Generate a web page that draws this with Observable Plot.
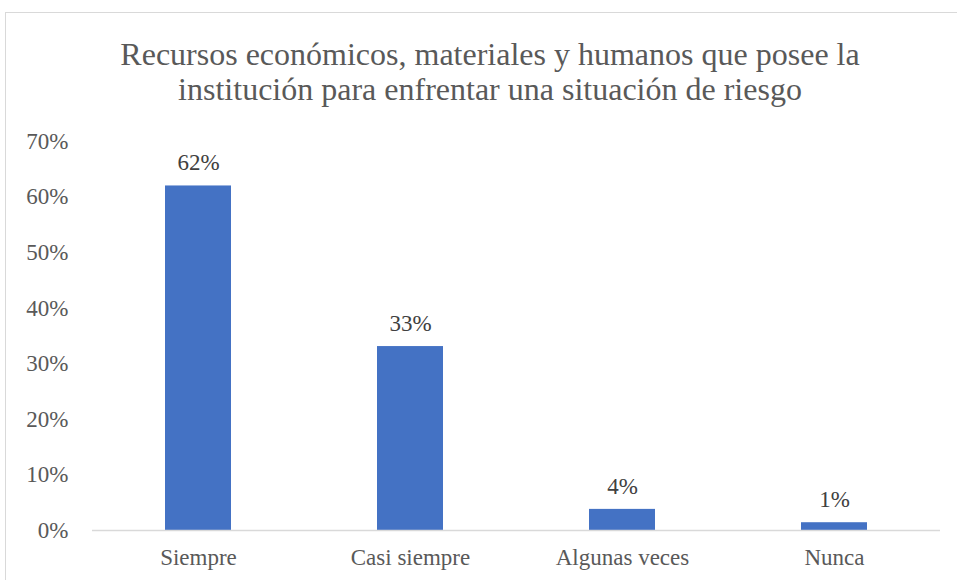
<!DOCTYPE html>
<html>
<head>
<meta charset="utf-8">
<script src="https://cdn.jsdelivr.net/npm/d3@7"></script>
<script src="https://cdn.jsdelivr.net/npm/@observablehq/plot@0.6"></script>
<style>
  html, body { margin: 0; padding: 0; background: #fff; }
  #wrap { position: relative; width: 957px; height: 580px; overflow: hidden; font-family: "Liberation Serif", "Times New Roman", serif; }
  #frame { position: absolute; left: 5px; top: 12px; width: 960px; height: 575px; border: 1px solid #d9d9d9; box-sizing: border-box; }
  #title { position: absolute; left: 0; top: 37px; width: 980px; text-align: center; font-size: 32px; line-height: 35px; color: #595959; }
  #chart { position: absolute; left: 0; top: 110px; }
</style>
</head>
<body>
<div id="wrap">
  <div id="frame"></div>
  <div id="title">Recursos económicos, materiales y humanos que posee la<br>institución para enfrentar una situación de riesgo</div>
  <div id="chart"></div>
</div>
<script>
const categories = ["Siempre", "Casi siempre", "Algunas veces", "Nunca"];
const values = [0.62, 0.331, 0.038, 0.014];
const yTicks = [0, 0.1, 0.2, 0.3, 0.4, 0.5, 0.6, 0.7];

const data = categories.map((c, i) => ({category: c, value: values[i]}));
const fmt = d3.format(".0%");
const FONT = '"Liberation Serif", "Times New Roman", serif';

const chart = Plot.plot({
  width: 957,
  height: 470,
  marginTop: 31,
  marginBottom: 50,
  marginLeft: 92,
  marginRight: 17,
  style: {fontFamily: FONT, fontSize: "23px", background: "transparent"},
  x: {domain: categories, paddingInner: 0.69, paddingOuter: 0.345, label: null},
  y: {domain: [0, 0.7], label: null},
  marks: [
    Plot.axisY({ticks: yTicks, tickFormat: fmt, tickSize: 0, tickPadding: 24, fill: "#595959", fontSize: 23}),
    Plot.axisX({tickSize: 0, tickPadding: 18, fill: "#595959", fontSize: 23}),
    Plot.barY(data, {x: "category", y: "value", fill: "#4472C4"}),
    Plot.ruleY([0], {stroke: "#d9d9d9", strokeWidth: 1.5}),
    Plot.text(data, {x: "category", y: "value", text: d => fmt(d.value), dy: -23, fill: "#404040", fontSize: 23})
  ]
});
document.getElementById("chart").appendChild(chart);
</script>
</body>
</html>
